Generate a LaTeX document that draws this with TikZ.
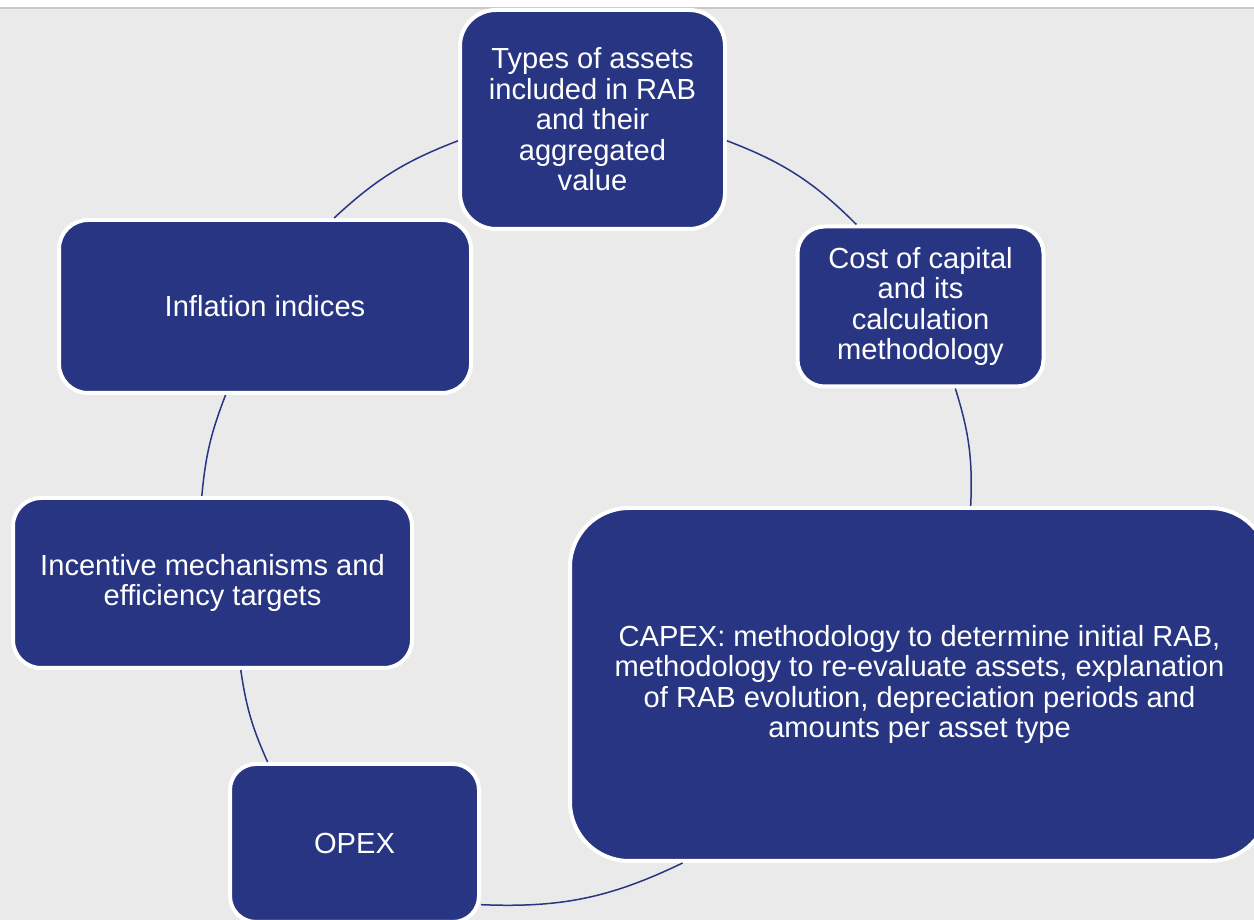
\documentclass[tikz,border=0pt]{standalone}
\usepackage{fontspec}
\setmainfont{Liberation Sans}
\definecolor{navy}{RGB}{40,53,131}
\definecolor{bgc}{RGB}{234,234,234}
\definecolor{rulec}{RGB}{200,200,200}
\begin{document}
\begin{tikzpicture}[x=1pt,y=1pt,
  box/.style={draw=white, line width=4pt, fill=navy, text=white, align=center,
    inner sep=0pt, font=\fontsize{29.1}{30.5}\selectfont},
  link/.style={draw=navy, line width=1.5pt}]
\useasboundingbox (0,0) rectangle (1254,920);
\fill[white] (0,0) rectangle (1254,920);
\fill[bgc] (0,0) rectangle (1254,912);
\draw[rulec, line width=1.5pt] (0,912) -- (1254,912);

\node[box, minimum width=265, minimum height=219, rounded corners=36] (types) at (592.5,800.5)
  {Types of assets\\included in RAB\\and their\\aggregated\\value};
\node[box, minimum width=246, minimum height=160, rounded corners=27] (cost) at (920.5,613.5)
  {Cost of capital\\and its\\calculation\\methodology};
\node[box, minimum width=699, minimum height=353, rounded corners=59] (capex) at (919.5,235.5)
  {CAPEX: methodology to determine initial RAB,\\methodology to re-evaluate assets, explanation\\of RAB evolution, depreciation periods and\\amounts per asset type};
\node[box, minimum width=249, minimum height=158, rounded corners=26] (opex) at (354.5,77)
  {OPEX};
\node[box, minimum width=399, minimum height=170, rounded corners=28] (incentive) at (212.5,337)
  {Incentive mechanisms and\\efficiency targets};
\node[box, minimum width=412, minimum height=173, rounded corners=29] (inflation) at (265,613.5)
  {Inflation indices};

\draw[link] (types.189) to[bend right=11] (inflation.52);
\draw[link] (types.351) to[bend left=12] (cost.128);
\draw[link] (cost.293) to[bend left=10] (capex.74.3);
\draw[link] (capex.217.3) to[bend left=14] (opex.334.4);
\draw[link] (opex.137.9) to[bend left=8] (incentive.288.7);
\draw[link] (incentive.97) to[bend left=8] (inflation.246.8);
\end{tikzpicture}
\end{document}
